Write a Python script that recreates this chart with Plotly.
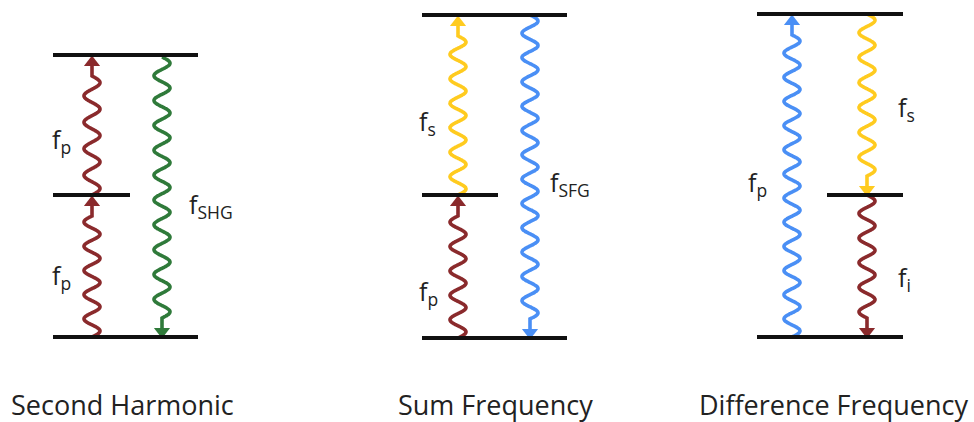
import numpy as np
import plotly.graph_objects as go

# Energy levels: (x_start, x_end, y) in pixel space of the 974x422 canvas
level_x0 = [53, 53, 53, 422, 422, 422, 757, 827, 757]
level_x1 = [198, 130, 198, 567, 498, 567, 903, 903, 903]
level_y = [55, 195, 337, 15, 195, 338, 14, 195, 337]

# Transitions: x centre, start y, end y (arrow at end), colour
trans_x = [92, 92, 162, 458, 458, 530, 792, 867, 867]
trans_y0 = [195, 337, 57, 195, 338, 15, 337, 14, 195]
trans_y1 = [57, 197, 337, 17, 197, 338, 16, 195, 337]
RED, GREEN, YEL, BLUE = "#8a2a2c", "#2f7a3a", "#ffcb1f", "#4a8ff5"
trans_c = [RED, RED, GREEN, YEL, RED, BLUE, BLUE, YEL, RED]

# Labels
lab_text = ["f<sub>p</sub>", "f<sub>p</sub>", "f<sub>SHG</sub>",
            "f<sub>s</sub>", "f<sub>p</sub>", "f<sub>SFG</sub>",
            "f<sub>p</sub>", "f<sub>s</sub>", "f<sub>i</sub>"]
lab_x = [50, 50, 187, 417, 417, 548, 746, 896, 896]
lab_y = [140, 276, 205, 122, 292, 183, 183, 108, 278]

titles = ["Second Harmonic", "Sum Frequency", "Difference Frequency"]
title_x = [122, 495, 833]
title_y = [404, 404, 404]

fig = go.Figure()

WAVELEN, AMP, STEM, HEAD = 24.0, 8.0, 8.0, 11.0
for xc, y0, y1, c in zip(trans_x, trans_y0, trans_y1, trans_c):
    d = np.sign(y1 - y0)
    L = abs(y1 - y0) - STEM - HEAD
    n = int(L / WAVELEN * 2) / 2.0
    wl = L / n if n > 0 else WAVELEN
    s = np.linspace(0, L, 400)
    xs = xc + AMP * np.sin(2 * np.pi * s / wl)
    ys = y0 + d * s
    ye = y0 + d * L
    xs = np.concatenate([xs, [xc, xc]])
    ys = np.concatenate([ys, [ye, y1 - d * HEAD * 0.5]])
    fig.add_trace(go.Scatter(x=xs, y=ys, mode="lines",
                             line=dict(color=c, width=3.6, shape="spline"),
                             hoverinfo="skip", showlegend=False))
    fig.add_trace(go.Scatter(x=[xc], y=[y1 - d * HEAD * 0.5], mode="markers",
                             marker=dict(symbol="triangle-up" if d < 0 else "triangle-down",
                                         size=14, color=c, line=dict(width=0)),
                             hoverinfo="skip", showlegend=False))

for x0, x1, y in zip(level_x0, level_x1, level_y):
    fig.add_trace(go.Scatter(x=[x0, x1], y=[y, y], mode="lines",
                             line=dict(color="#111111", width=3.8),
                             hoverinfo="skip", showlegend=False))

for t, x, y in zip(lab_text, lab_x, lab_y):
    fig.add_annotation(x=x, y=y, text=t, showarrow=False, xanchor="left",
                       yanchor="middle",
                       font=dict(family="Open Sans", size=25, color="#222222"))

for t, x, y in zip(titles, title_x, title_y):
    fig.add_annotation(x=x, y=y, text=t, showarrow=False, xanchor="center",
                       yanchor="middle",
                       font=dict(family="Open Sans", size=27, color="#222222"))

fig.update_layout(width=974, height=422, margin=dict(l=0, r=0, t=0, b=0),
                  paper_bgcolor="white", plot_bgcolor="white",
                  xaxis=dict(range=[0, 974], visible=False, fixedrange=True),
                  yaxis=dict(range=[422, 0], visible=False, fixedrange=True))
fig.write_html("out.html")
